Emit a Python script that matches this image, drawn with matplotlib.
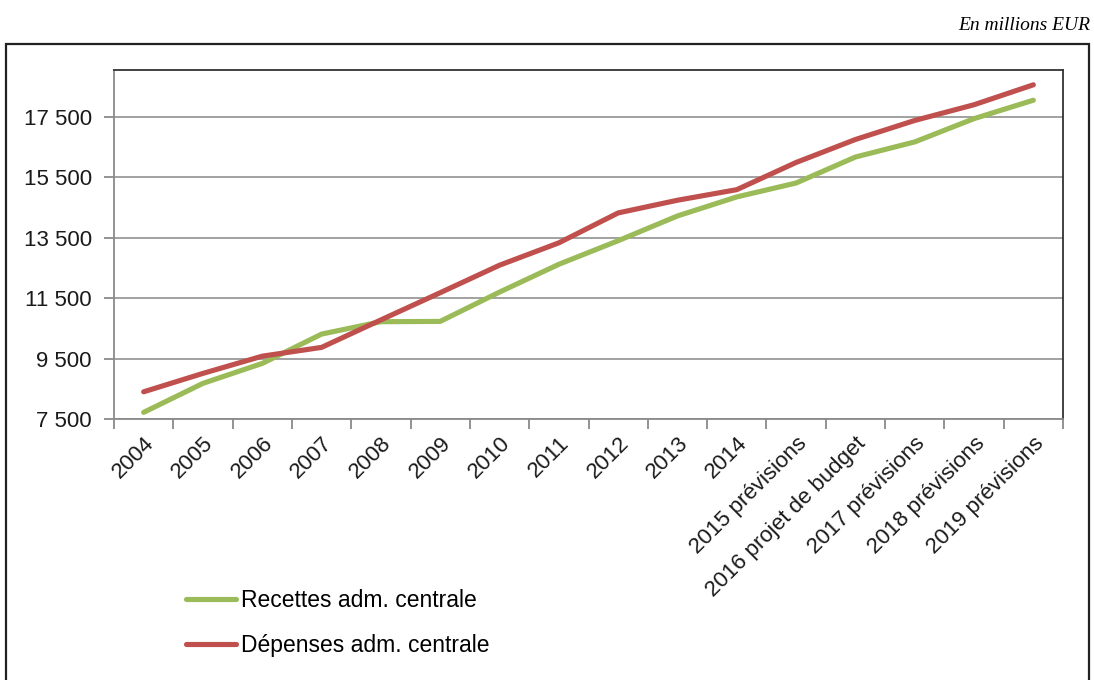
import numpy as np
import matplotlib
matplotlib.use("Agg")
import matplotlib.pyplot as plt
from matplotlib.patches import Rectangle
from matplotlib.ticker import FuncFormatter

# values (millions EUR)
categories = ["2004", "2005", "2006", "2007", "2008", "2009", "2010", "2011",
              "2012", "2013", "2014", "2015 prévisions", "2016 projet de budget",
              "2017 prévisions", "2018 prévisions", "2019 prévisions"]
recettes = [7720, 8680, 9340, 10310, 10720, 10730, 11700, 12620,
            13400, 14220, 14850, 15310, 16170, 16670, 17440, 18050]
depenses = [8400, 9010, 9580, 9870, 10780, 11680, 12590, 13330,
            14320, 14740, 15090, 15990, 16750, 17380, 17900, 18560]
yticks = [7500, 9500, 11500, 13500, 15500, 17500]

plt.rcParams['font.family'] = ['Liberation Sans', 'DejaVu Sans']

fig = plt.figure(figsize=(10.94, 6.8), dpi=100)
ax = fig.add_axes([114/1094, 1 - 419/680, 949/1094, 349/680])

x = np.arange(len(categories))
green = '#9BBB59'
red = '#C0504D'
ax.plot(x, recettes, color=green, lw=3.7, solid_capstyle='round', label='Recettes adm. centrale')
ax.plot(x, depenses, color=red, lw=3.7, solid_capstyle='round', label='Dépenses adm. centrale')

ax.set_xlim(-0.5, len(categories) - 0.5)
ax.set_ylim(7500, 19050)
ax.set_yticks(yticks)
ax.yaxis.set_major_formatter(FuncFormatter(lambda v, p: f"{int(v):,}".replace(",", " ")))
ax.grid(axis='y', color='#9a9a9a', lw=1.3)
ax.set_axisbelow(True)

ax.set_xticks(x)
ax.set_xticklabels(categories, rotation=45, ha='right', rotation_mode='anchor')
ax.set_xticks(np.arange(len(categories) + 1) - 0.5, minor=True)
ax.tick_params(axis='x', which='major', length=0, pad=10, labelsize=16, colors='#1a1a1a')
ax.tick_params(axis='x', which='minor', length=7, width=1.3, color='#8a8a8a', direction='out')
ax.tick_params(axis='y', length=7, width=1.3, color='#8a8a8a', labelsize=16, pad=9,
               labelcolor='#1a1a1a')

for s in ['left', 'bottom']:
    ax.spines[s].set_color('#8a8a8a')
    ax.spines[s].set_linewidth(1.3)
for s in ['top', 'right']:
    ax.spines[s].set_color('#333333')
    ax.spines[s].set_linewidth(1.3)

fig.legend(loc='center left', bbox_to_anchor=(186/1094, 1 - 623/680), frameon=False,
           fontsize=16.5, handlelength=2.2, handletextpad=0.2, labelspacing=0.95,
           borderpad=0, borderaxespad=0)

# outer frame
fig.patches.append(Rectangle((6/1094, -0.05), 1083/1094, 1.05 - 44/680,
                             transform=fig.transFigure, fill=False,
                             edgecolor='#222222', lw=1.6, clip_on=False))

fig.text(1090/1094, 1 - 26/680, "En millions EUR", ha='right', va='center',
         fontsize=14, style='italic', family=['Liberation Serif', 'DejaVu Serif'])

fig.savefig("out.png", dpi=100)
